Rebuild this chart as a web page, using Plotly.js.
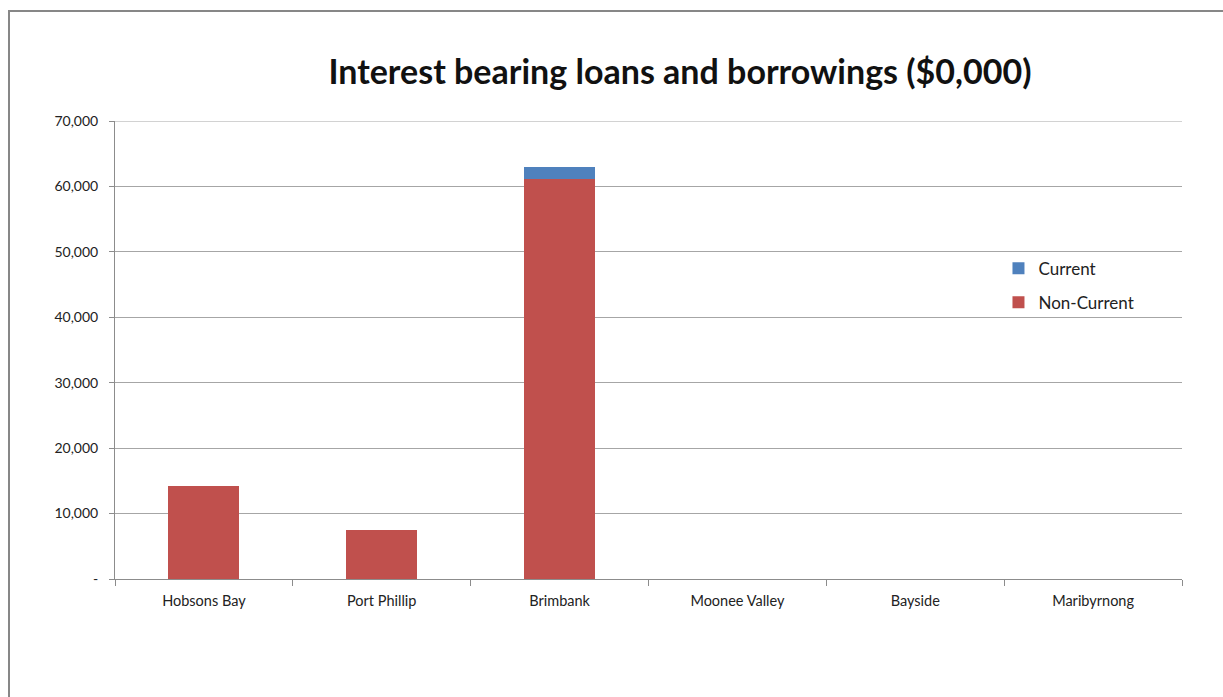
<!DOCTYPE html>
<html>
<head>
<meta charset="utf-8">
<script src="https://cdn.plot.ly/plotly-3.0.1.min.js"></script>
<style>
  html, body { margin: 0; padding: 0; background: #fff; overflow: hidden; }
  #frame { position: absolute; left: 8px; top: 10px; width: 1400px; height: 900px;
           border-left: 2px solid #878787; border-top: 2px solid #878787; }
  #chart { position: absolute; left: 0; top: 0; width: 1223px; height: 697px; }
</style>
</head>
<body>
<div id="frame"></div>
<div id="chart"></div>
<script>
const categories = ["Hobsons Bay", "Port Phillip", "Brimbank", "Moonee Valley", "Bayside", "Maribyrnong"];
const nonCurrent = [14250, 7530, 61100, 0, 0, 0];
const current = [0, 0, 1900, 0, 0, 0];
const yTickVals = [0, 10000, 20000, 30000, 40000, 50000, 60000, 70000];
const yTickText = ["-", "10,000", "20,000", "30,000", "40,000", "50,000", "60,000", "70,000"];
const yMax = 70000;

const font = "Lato, 'Open Sans', sans-serif";

const traces = [
  { type: "bar", name: "Non-Current", x: categories, y: nonCurrent, legendgroup: "nc", legendrank: 2,
    marker: { color: "#C0504D" } },
  { type: "bar", name: "Current", x: categories, y: current, legendgroup: "c", legendrank: 1,
    marker: { color: "#4F81BD" } }
];

const layout = {
  width: 1223, height: 697,
  margin: { l: 115, r: 41, t: 121, b: 118 },
  paper_bgcolor: "rgba(0,0,0,0)", plot_bgcolor: "rgba(0,0,0,0)",
  barmode: "stack", bargap: 0.6,
  font: { family: font, size: 14, color: "#222" },
  title: { text: "<b>Interest bearing loans and borrowings ($0,000)</b>",
           font: { family: font, size: 34, color: "#111" },
           x: 0.556, xanchor: "center", y: 0.897, yanchor: "middle" },
  xaxis: { type: "category", showgrid: false, showline: true, linecolor: "#8c8c8c", linewidth: 1,
           ticks: "outside", tickson: "boundaries", ticklen: 6, tickcolor: "#8c8c8c",
           ticklabelstandoff: 9,
           tickfont: { family: font, size: 14.5, color: "#222" }, fixedrange: true },
  yaxis: { range: [0, yMax], tickvals: yTickVals, ticktext: yTickText,
           showgrid: true, gridcolor: "#a6a6a6", gridwidth: 1,
           showline: true, linecolor: "#8c8c8c", linewidth: 1,
           ticks: "outside", ticklen: 5, tickcolor: "#8c8c8c",
           ticklabelstandoff: 8,
           tickfont: { family: font, size: 14, color: "#222" }, zeroline: false, fixedrange: true },
  shapes: [
    { type: "line", xref: "paper", yref: "y", x0: 0, x1: 1, y0: yMax, y1: yMax,
      line: { color: "#a6a6a6", width: 1 }, layer: "below" }
  ],
  legend: { x: 0.828, y: 0.717, xanchor: "left", yanchor: "top",
            font: { family: font, size: 17, color: "#222" }, bgcolor: "rgba(0,0,0,0)",
            traceorder: "grouped", tracegroupgap: 9 },
  showlegend: true
};

Plotly.newPlot("chart", traces, layout, { displayModeBar: false, staticPlot: true });
</script>
</body>
</html>
